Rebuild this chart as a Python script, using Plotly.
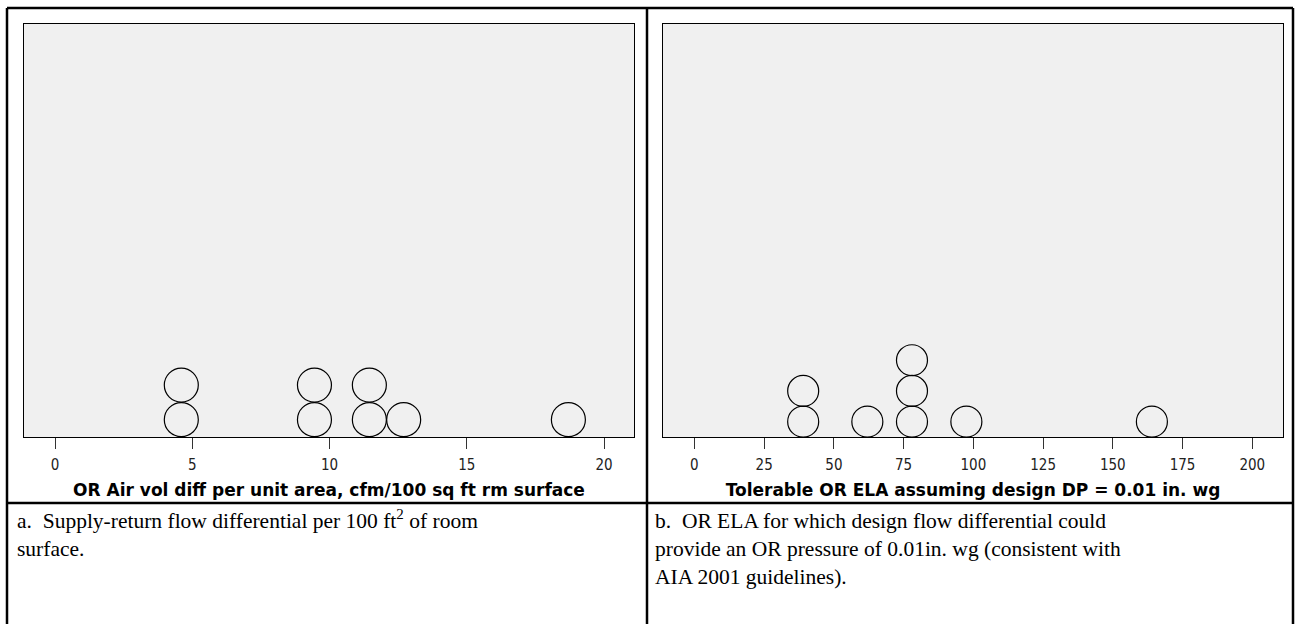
import plotly.graph_objects as go
from collections import Counter

# ---- data ----
left_values = [4.6, 4.6, 9.45, 9.45, 11.45, 11.45, 12.7, 18.7]
right_values = [39, 39, 62, 78, 78, 78, 97.5, 164]
left_ticks = [0, 5, 10, 15, 20]
right_ticks = [0, 25, 50, 75, 100, 125, 150, 175, 200]
left_title = "OR Air vol diff per unit area, cfm/100 sq ft rm surface"
right_title = "Tolerable OR ELA assuming design DP = 0.01 in. wg"
caption_a = "a.  Supply-return flow differential per 100 ft<sup>2</sup> of room<br>surface."
caption_b = "b.  OR ELA for which design flow differential could<br>provide an OR pressure of 0.01in. wg (consistent with<br>AIA 2001 guidelines)."


def stack(values):
    seen = Counter()
    ys = []
    for v in values:
        ys.append(seen[v] + 0.5)
        seen[v] += 1
    return ys


W, H = 1296, 624


def px(x):
    return x / W


def py(y):
    return 1 - y / H


fig = go.Figure()
fig.add_trace(go.Scatter(
    x=left_values, y=stack(left_values), mode="markers",
    marker=dict(symbol="circle", size=34, color="rgba(0,0,0,0)",
                line=dict(color="black", width=1.2)),
    xaxis="x", yaxis="y", hoverinfo="x"))
fig.add_trace(go.Scatter(
    x=right_values, y=stack(right_values), mode="markers",
    marker=dict(symbol="circle", size=31, color="rgba(0,0,0,0)",
                line=dict(color="black", width=1.2)),
    xaxis="x2", yaxis="y2", hoverinfo="x"))

tickfont = dict(family="DejaVu Sans Condensed, Liberation Sans Narrow, Roboto Condensed, DejaVu Sans, sans-serif",
                size=15, color="#222")
titlefont = dict(family="DejaVu Sans, Verdana, sans-serif", size=17, color="black")

common_x = dict(showline=True, linecolor="black", linewidth=1, mirror=True,
                ticks="outside", ticklen=11, tickcolor="#333", tickwidth=1,
                ticklabelstandoff=3,
                showgrid=False, zeroline=False, tickfont=tickfont,
                title_standoff=11)
common_y = dict(showline=True, linecolor="black", linewidth=1, mirror=True,
                showticklabels=False, ticks="", showgrid=False, zeroline=False)

ydom = [py(437), py(24)]
fig.update_layout(
    width=W, height=H, margin=dict(l=0, r=0, t=0, b=0),
    paper_bgcolor="white", plot_bgcolor="#f0f0f0", showlegend=False,
    xaxis=dict(domain=[px(24), px(634)], range=[-1.13, 21.09],
               tickvals=left_ticks, ticktext=[str(t) for t in left_ticks],
               title=dict(text="<b>" + left_title + "</b>", font=titlefont),
               anchor="y", **common_x),
    yaxis=dict(domain=ydom, range=[0, 11.94], anchor="x", **common_y),
    xaxis2=dict(domain=[px(663), px(1283)], range=[-11.25, 211.0],
                tickvals=right_ticks, ticktext=[str(t) for t in right_ticks],
                title=dict(text="<b>" + right_title + "</b>", font=titlefont),
                anchor="y2", **common_x),
    yaxis2=dict(domain=ydom, range=[0, 13.45], anchor="x2", **common_y),
)

# table borders
lw = 2.5
for (x0, y0, x1, y1) in [(7, 8, 1293, 8), (7, 8, 7, 624), (647, 8, 647, 624),
                         (1293, 8, 1293, 624), (7, 503, 1293, 503)]:
    fig.add_shape(type="line", xref="paper", yref="paper",
                  x0=px(x0), y0=py(y0), x1=px(x1), y1=py(y1),
                  line=dict(color="black", width=lw))

capfont = dict(family="Liberation Serif, Times New Roman, serif", size=21.5, color="black")
fig.add_annotation(text=caption_a, xref="paper", yref="paper", x=px(15), y=py(504),
                   xanchor="left", yanchor="top", align="left", showarrow=False, font=capfont)
fig.add_annotation(text=caption_b, xref="paper", yref="paper", x=px(653), y=py(507),
                   xanchor="left", yanchor="top", align="left", showarrow=False, font=capfont)

fig.write_html("out.html", config={"displayModeBar": False},
               post_script="document.body.style.margin='0';document.body.style.overflow='hidden';")
